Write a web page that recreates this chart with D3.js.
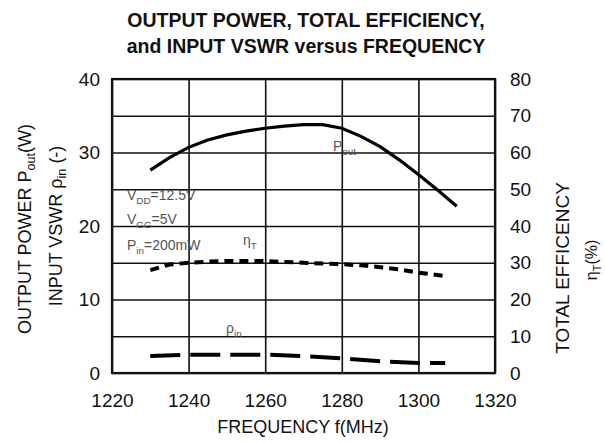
<!DOCTYPE html>
<html>
<head>
<meta charset="utf-8">
<script src="https://cdn.jsdelivr.net/npm/d3@7"></script>
<style>
	body { margin: 0; background: #fff; }
	text { font-family: Arial, "Liberation Sans", sans-serif; fill: #111; }
	.grid line { stroke: #111; stroke-width: 1.6; }
	.note { fill: #555; font-size: 14px; }
</style>
</head>
<body>
<svg id="chart" width="605" height="443"></svg>
<script>
"use strict";

// Output power (W), left axis
var poutFreq = [1230, 1235, 1240, 1245, 1250, 1255, 1260, 1265, 1270, 1275, 1280, 1285, 1290, 1295, 1300, 1305, 1310];
var poutValues = [27.6, 29.3, 30.7, 31.7, 32.4, 32.9, 33.3, 33.6, 33.8, 33.8, 33.3, 32.2, 30.8, 29.0, 27.0, 24.9, 22.7];

// Total efficiency (%), right axis
var effFreq = [1230, 1235, 1240, 1245, 1250, 1255, 1260, 1265, 1270, 1275, 1280, 1285, 1290, 1295, 1300, 1307];
var effValues = [28.0, 29.5, 30.0, 30.3, 30.5, 30.5, 30.5, 30.2, 30.0, 29.8, 29.6, 29.3, 28.8, 28.2, 27.3, 26.4];

// Input VSWR (-), left axis
var vswrFreq = [1230, 1240, 1250, 1260, 1270, 1280, 1290, 1300, 1307];
var vswrValues = [2.3, 2.5, 2.5, 2.5, 2.3, 2.0, 1.6, 1.35, 1.35];

var xTicks = [1220, 1240, 1260, 1280, 1300, 1320];
var leftTicks = [0, 10, 20, 30, 40];
var rightTicks = [0, 10, 20, 30, 40, 50, 60, 70, 80];

var svg = d3.select("#chart");
var margin = {top: 79, right: 110, bottom: 70, left: 112};
var width = 495 - margin.left;
var height = 373 - margin.top;

var chart = svg.append("g")
	.attr("transform", "translate(" + margin.left + "," + margin.top + ")");

var x = d3.scaleLinear().domain([1220, 1320]).range([0, width]);
var yL = d3.scaleLinear().domain([0, 40]).range([height, 0]);
var yR = d3.scaleLinear().domain([0, 80]).range([height, 0]);
var plain = d3.format("d");

// Grid lines, drawn as axes with full-size ticks
chart.append("g")
	.attr("class", "grid")
	.call(d3.axisLeft(yL).tickValues(d3.range(0, 41, 5)).tickSize(-width).tickFormat(""))
	.call(function (g) { g.select(".domain").remove(); });
chart.append("g")
	.attr("class", "grid")
	.attr("transform", "translate(0," + height + ")")
	.call(d3.axisBottom(x).tickValues(xTicks).tickSize(-height).tickFormat(""))
	.call(function (g) { g.select(".domain").remove(); });

chart.append("rect")
	.attr("width", width)
	.attr("height", height)
	.attr("fill", "none")
	.attr("stroke", "#111")
	.attr("stroke-width", 2.2);

// Tick labels
var leftAxis = chart.append("g")
	.call(d3.axisLeft(yL).tickValues(leftTicks).tickFormat(plain).tickSize(0).tickPadding(12));
var rightAxis = chart.append("g")
	.attr("transform", "translate(" + width + ",0)")
	.call(d3.axisRight(yR).tickValues(rightTicks).tickFormat(plain).tickSize(0).tickPadding(15));
var bottomAxis = chart.append("g")
	.attr("transform", "translate(0," + height + ")")
	.call(d3.axisBottom(x).tickValues(xTicks).tickFormat(plain).tickSize(0).tickPadding(21));
[leftAxis, rightAxis, bottomAxis].forEach(function (a) {
	a.select(".domain").remove();
	a.selectAll("text")
		.style("font-size", "19px")
		.style("font-family", "Arial, 'Liberation Sans', sans-serif")
		.attr("fill", "#222");
});

// Series
var line = function (xs, ys, yScale) {
	return d3.line()
		.x(function (d, i) { return x(xs[i]); })
		.y(function (d, i) { return yScale(ys[i]); })(ys);
};

chart.append("path")
	.attr("d", line(poutFreq, poutValues, yL))
	.attr("fill", "none")
	.attr("stroke", "#000")
	.attr("stroke-width", 3.2);

chart.append("path")
	.attr("d", line(effFreq, effValues, yR))
	.attr("fill", "none")
	.attr("stroke", "#000")
	.attr("stroke-width", 4)
	.attr("stroke-dasharray", "9,6");

chart.append("path")
	.attr("d", line(vswrFreq, vswrValues, yL))
	.attr("fill", "none")
	.attr("stroke", "#000")
	.attr("stroke-width", 4)
	.attr("stroke-dasharray", "30,10");

// Annotations with subscripts
function subText(g, px, py, main, sub, rest, cls) {
	var t = g.append("text").attr("x", px).attr("y", py);
	if (cls) t.attr("class", cls);
	t.append("tspan").text(main);
	t.append("tspan").attr("dy", 4).style("font-size", "0.7em").text(sub);
	if (rest) t.append("tspan").attr("dy", -4).text(rest);
	return t;
}

subText(svg, 333, 151, "P", "out", null, "note");
subText(svg, 243, 245, "\u03b7", "T", null, "note");
subText(svg, 226, 333, "\u03c1", "in", null, "note");
subText(svg, 127, 200, "V", "DD", "=12.5V", "note");
subText(svg, 127, 224, "V", "GG", "=5V", "note");
subText(svg, 127, 250, "P", "in", "=200mW", "note");

// Titles
svg.append("text")
	.attr("x", 306).attr("y", 27)
	.attr("text-anchor", "middle")
	.style("font-size", "19.5px").style("font-weight", "bold").attr("fill", "#222")
	.text("OUTPUT POWER, TOTAL EFFICIENCY,");
svg.append("text")
	.attr("x", 306).attr("y", 53)
	.attr("text-anchor", "middle")
	.style("font-size", "19.5px").style("font-weight", "bold").attr("fill", "#222")
	.text("and INPUT VSWR versus FREQUENCY");

svg.append("text")
	.attr("x", 303).attr("y", 433)
	.attr("text-anchor", "middle")
	.style("font-size", "18px")
	.text("FREQUENCY f(MHz)");

var lt1 = subText(svg, 0, 0, "OUTPUT POWER P", "out", "(W)");
lt1.attr("transform", "translate(31,229) rotate(-90)").attr("text-anchor", "middle").style("font-size", "18px");
var lt2 = subText(svg, 0, 0, "INPUT VSWR \u03c1", "in", " (-)");
lt2.attr("transform", "translate(62,226) rotate(-90)").attr("text-anchor", "middle").style("font-size", "18px");

svg.append("text")
	.attr("transform", "translate(569,268) rotate(-90)")
	.attr("text-anchor", "middle")
	.style("font-size", "19px")
	.text("TOTAL EFFICENCY");
var rt = subText(svg, 0, 0, "\u03b7", "T", "(%)");
rt.attr("transform", "translate(597,260) rotate(-90)").attr("text-anchor", "middle").style("font-size", "16px");
</script>
</body>
</html>
